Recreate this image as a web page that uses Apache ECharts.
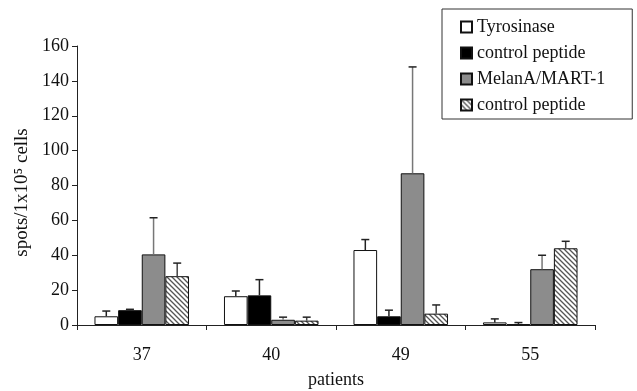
<!DOCTYPE html>
<html>
<head>
<meta charset="utf-8">
<script src="https://cdn.jsdelivr.net/npm/echarts@6/dist/echarts.min.js"></script>
<style>
  html, body { margin: 0; padding: 0; background: #fff; }
  #chart { width: 637px; height: 391px; }
</style>
</head>
<body>
<div id="chart"></div>
<script>
// data
var patients = ['37', '40', '49', '55'];
var legendNames = ['Tyrosinase', 'control peptide', 'MelanA/MART-1', 'control peptide '];
var tyrosinase = [5, 16.5, 43, 1.5];
var tyrosinaseErr = [3, 3, 6, 2];
var control1 = [8.5, 17, 5, 0.4];
var control1Err = [0.5, 9, 3.5, 1];
var melan = [40.5, 3, 87, 32];
var melanErr = [21, 1.5, 61, 8];
var control2 = [28, 2.5, 6.5, 44];
var control2Err = [7.5, 2, 5, 4];
var yTicks = [0, 20, 40, 60, 80, 100, 120, 140, 160];

var FONT = "'Liberation Serif', 'Times New Roman', serif";
var catGap = 0.27;

// hatch pattern for the 2nd control peptide
function hatch() {
  var c = document.createElement('canvas');
  c.width = 5; c.height = 5;
  var g = c.getContext('2d');
  g.fillStyle = '#fff';
  g.fillRect(0, 0, 5, 5);
  g.strokeStyle = '#555';
  g.lineWidth = 1.3;
  g.beginPath();
  g.moveTo(-1, -1); g.lineTo(6, 6);
  g.moveTo(-1, 4); g.lineTo(1, 6);
  g.moveTo(4, -1); g.lineTo(6, 1);
  g.stroke();
  return c;
}

var fills = ['#ffffff', '#000000', '#8c8c8c', { image: hatch(), repeat: 'repeat' }];
var errColors = ['#222', '#222', '#777', '#444'];
var values = [tyrosinase, control1, melan, control2];
var errs = [tyrosinaseErr, control1Err, melanErr, control2Err];

function errRender(k) {
  return function (params, api) {
    var c = api.value(0), v = api.value(1), e = api.value(2);
    var band = api.size([1, 0])[0];
    var bw = band * (1 - catGap) / 4;
    var x = api.coord([c, 0])[0] - 2 * bw + (k + 0.5) * bw;
    var y0 = api.coord([c, v])[1];
    var y1 = api.coord([c, v + e])[1];
    return {
      type: 'group',
      children: [
        { type: 'line', shape: { x1: x, y1: y0, x2: x, y2: y1 }, style: { stroke: errColors[k], lineWidth: 1.5 } },
        { type: 'line', shape: { x1: x - 4, y1: y1, x2: x + 4, y2: y1 }, style: { stroke: '#222', lineWidth: 1.5 } }
      ]
    };
  };
}

var series = [];
values.forEach(function (vals, k) {
  series.push({
    name: legendNames[k],
    type: 'bar',
    barGap: '0%',
    barCategoryGap: (catGap * 100) + '%',
    itemStyle: { color: fills[k], borderColor: '#111', borderWidth: 1 },
    data: vals
  });
});
values.forEach(function (vals, k) {
  series.push({
    type: 'custom',
    renderItem: errRender(k),
    z: 5,
    data: vals.map(function (v, i) { return [i, v, errs[k][i]]; })
  });
});

var chart = echarts.init(document.getElementById('chart'));
chart.setOption({
  animation: false,
  backgroundColor: '#fff',
  grid: { left: 77, right: 42, top: 46, bottom: 66, outerBoundsMode: 'none' },
  legend: {
    data: legendNames,
    orient: 'vertical',
    left: 442,
    top: 9,
    padding: [9, 27, 5, 18],
    itemWidth: 11,
    itemHeight: 11,
    itemGap: 8,
    borderColor: '#333',
    borderWidth: 1,
    icon: 'rect',
    selectedMode: false,
    formatter: function (n) { return n.trim(); },
    textStyle: { fontFamily: FONT, fontSize: 18, color: '#111' }
  },
  xAxis: {
    type: 'category',
    data: patients,
    name: 'patients',
    nameLocation: 'middle',
    nameGap: 46,
    nameTextStyle: { fontFamily: FONT, fontSize: 18, color: '#111' },
    axisLine: { lineStyle: { color: '#222', width: 1 } },
    axisTick: { show: true, length: 5, lineStyle: { color: '#222' } },
    axisLabel: { margin: 21, fontFamily: FONT, fontSize: 18, color: '#111' }
  },
  yAxis: {
    type: 'value',
    min: yTicks[0],
    max: yTicks[yTicks.length - 1],
    interval: yTicks[1] - yTicks[0],
    name: 'spots/1x10\u2075 cells',
    nameLocation: 'middle',
    nameGap: 44,
    nameRotate: 90,
    nameTextStyle: { fontFamily: FONT, fontSize: 19, color: '#111', padding: [0, 14, 0, 0] },
    axisLine: { show: true, lineStyle: { color: '#222', width: 1 } },
    axisTick: { show: true, length: 5, lineStyle: { color: '#222' } },
    axisLabel: { margin: 8, fontFamily: FONT, fontSize: 18, color: '#111' },
    splitLine: { show: false }
  },
  series: series
});
</script>
</body>
</html>
